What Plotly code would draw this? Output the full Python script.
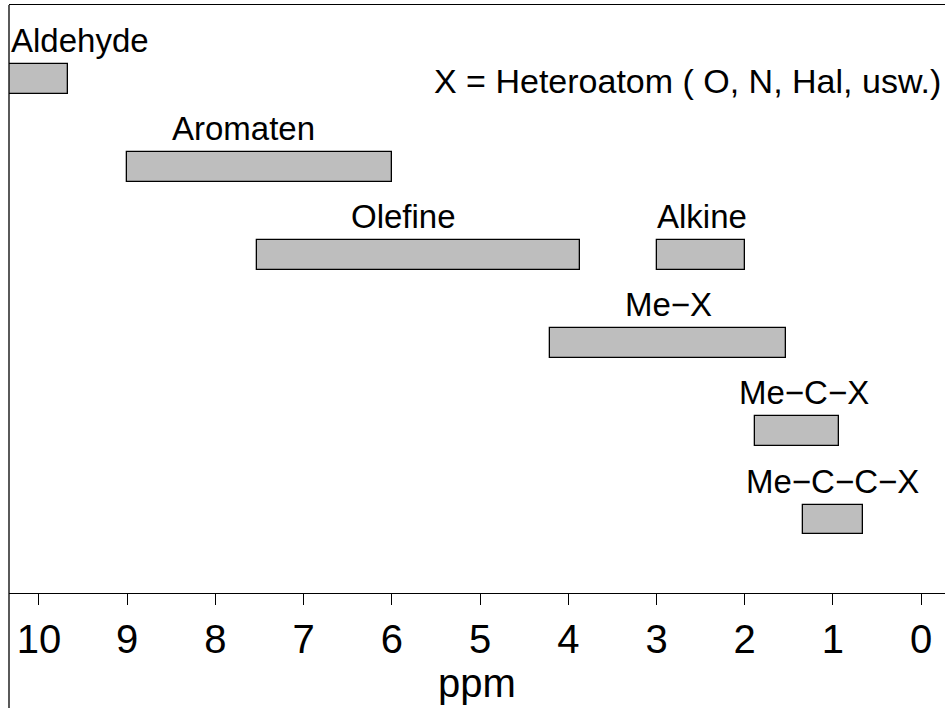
import plotly.graph_objects as go

# ---- data ----
categories = ["Aldehyde", "Aromaten", "Olefine", "Alkine", "Me\u2212X", "Me\u2212C\u2212X", "Me\u2212C\u2212C\u2212X"]
ppm_high = [10.5, 9.0, 7.53, 3.0, 4.21, 1.88, 1.34]
ppm_low = [9.67, 6.0, 3.87, 2.0, 1.53, 0.93, 0.66]
rows = [6, 5, 4, 4, 3, 2, 1]
label_ppm = [9.54, 7.68, 5.87, 2.48, 2.86, 1.33, 1.0]
tick_vals = [10, 9, 8, 7, 6, 5, 4, 3, 2, 1, 0]
note_text = "X = Heteroatom ( O, N, Hal, usw.)"

FONT = "Liberation Sans, Arial, Helvetica, sans-serif"
BAR_H = 0.34

fig = go.Figure()
fig.add_trace(go.Bar(
    y=rows,
    x=[h - l for h, l in zip(ppm_high, ppm_low)],
    base=ppm_low,
    orientation="h",
    width=BAR_H,
    marker=dict(color="#BEBEBE", line=dict(color="black", width=1.3)),
    hoverinfo="skip",
    showlegend=False,
))

annotations = []
for name, lx, r in zip(categories, label_ppm, rows):
    annotations.append(dict(
        x=lx, y=r + BAR_H / 2, xref="x", yref="y",
        text=name, showarrow=False, xanchor="center", yanchor="bottom",
        yshift=3, font=dict(family=FONT, size=33, color="black"),
    ))
annotations.append(dict(
    x=0.9975, y=6, xref="paper", yref="y", text=note_text, showarrow=False,
    xanchor="right", yanchor="middle", yshift=-2,
    font=dict(family=FONT, size=34, color="black"),
))

fig.update_layout(
    width=945, height=708,
    margin=dict(l=9, r=0, t=5, b=115),
    plot_bgcolor="white", paper_bgcolor="white",
    annotations=annotations,
    xaxis=dict(
        range=[10.34, -0.27], tickvals=tick_vals, ticktext=[str(v) for v in tick_vals],
        ticks="outside", ticklen=11, tickwidth=1.3, tickcolor="black",
        showline=True, linecolor="black", linewidth=1.3, mirror=True,
        showgrid=False, zeroline=False,
        tickfont=dict(family=FONT, size=40, color="black"),
        title=dict(text="ppm", font=dict(family=FONT, size=40, color="black"), standoff=0),
    ),
    yaxis=dict(range=[0.166, 6.838], visible=False, showgrid=False, zeroline=False),
    shapes=[dict(type="line", xref="paper", yref="paper", x0=0, x1=0,
                 y0=-(708 - 593) / 588, y1=1, line=dict(color="black", width=1.3))],
    bargap=0,
)

fig.write_html(
    "out.html",
    config={"displayModeBar": False},
    post_script="document.body.style.margin='0';document.body.style.overflow='hidden';",
)
